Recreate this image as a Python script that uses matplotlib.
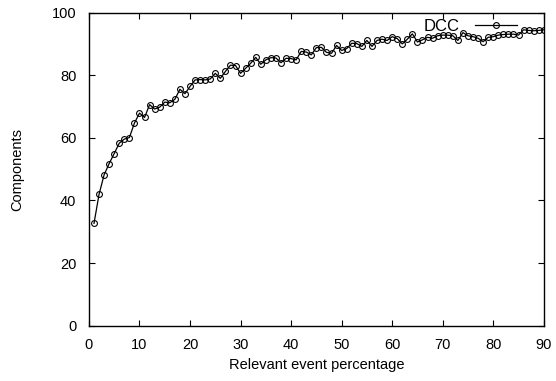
import matplotlib
matplotlib.use("Agg")
from matplotlib import pyplot as plt

# Relevant event percentage (x) and components (y)
pct = list(range(1, 91))
components = [
    32.7, 42.0, 48.2, 51.8, 55.0, 58.3, 59.6, 60.1, 64.7, 67.9,
    66.5, 70.6, 69.2, 69.8, 71.4, 71.2, 72.3, 75.5, 74.1, 76.4,
    78.5, 78.6, 78.5, 78.8, 80.6, 79.0, 81.2, 83.2, 83.1, 80.6,
    82.2, 83.8, 85.7, 83.5, 84.9, 85.6, 85.5, 84.0, 85.4, 85.3,
    84.9, 87.6, 87.4, 86.5, 88.8, 88.9, 87.3, 87.0, 89.5, 87.9,
    88.5, 90.2, 90.1, 89.2, 91.1, 89.2, 91.1, 91.5, 91.1, 92.3,
    91.7, 90.0, 91.5, 93.2, 90.6, 91.3, 92.1, 91.8, 92.6, 92.8,
    92.8, 92.6, 91.1, 93.6, 92.6, 92.3, 91.8, 90.7, 92.1, 92.3,
    92.8, 93.0, 93.1, 93.1, 92.8, 94.5, 94.3, 94.2, 94.3, 94.5,
]
xticks = list(range(0, 91, 10))
yticks = list(range(0, 101, 20))

plt.rcParams['font.family'] = ['Liberation Sans', 'DejaVu Sans']

fig = plt.figure(figsize=(5.56, 3.81), dpi=100)
ax = fig.add_axes([0.160, 0.145, 0.818, 0.822])

ax.plot(pct, components, color='black', linewidth=0.9, marker='o',
        markersize=4.2, markerfacecolor='none', markeredgecolor='black',
        markeredgewidth=0.8, label='DCC')

ax.set_xlim(0, 90)
ax.set_ylim(0, 100)
ax.set_xticks(xticks)
ax.set_yticks(yticks)
ax.tick_params(axis='both', direction='in', length=4, width=0.8,
               top=True, right=True, labelsize=10.5)
ax.tick_params(axis='x', pad=9)
ax.tick_params(axis='y', pad=9)
for s in ax.spines.values():
    s.set_linewidth(1.0)

ax.set_xlabel('Relevant event percentage', fontsize=10.5, labelpad=4)
ax.set_ylabel('Components', fontsize=10.5, labelpad=20)

leg = ax.legend(loc='upper right', frameon=False, fontsize=12,
                handlelength=2.5, borderaxespad=0.0, handletextpad=0.9,
                markerfirst=False, bbox_to_anchor=(0.955, 1.0))

fig.savefig('out.png', dpi=100)
